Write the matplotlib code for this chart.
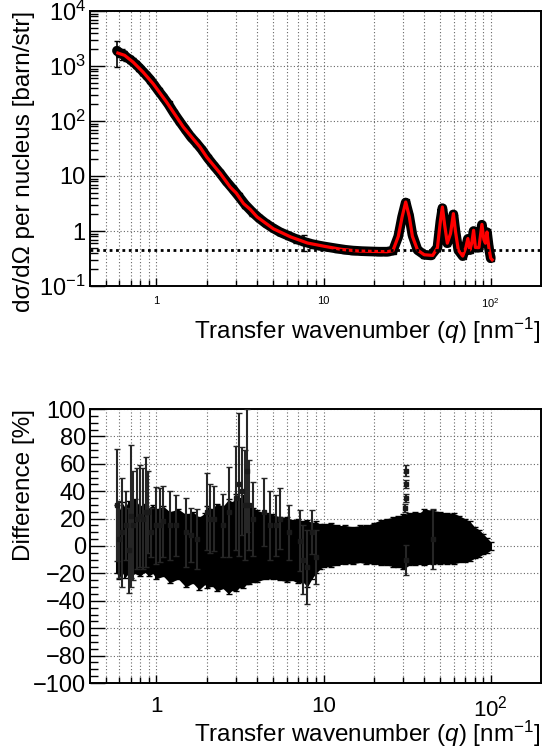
import matplotlib
matplotlib.use('Agg')
import matplotlib.pyplot as plt
from matplotlib.ticker import FixedLocator, FixedFormatter, NullFormatter, MultipleLocator

plt.rcParams['font.family'] = ['Liberation Sans', 'DejaVu Sans']
plt.rcParams['mathtext.fontset'] = 'custom'
plt.rcParams['mathtext.rm'] = 'Liberation Sans'
plt.rcParams['mathtext.it'] = 'Liberation Sans:italic'
plt.rcParams['mathtext.default'] = 'regular'
plt.rcParams['axes.unicode_minus'] = True

# ---------------- data: top panel (measured cross section) ----------------
data_q = [0.58, 0.60, 0.62, 0.64, 0.66, 0.69, 0.72, 0.75, 0.79, 0.83, 0.87, 0.92, 0.97,
          1.03, 1.1, 1.18, 1.27, 1.37, 1.48, 1.6, 1.73, 1.87, 2.02, 2.2, 2.4, 2.6, 2.85,
          3.1, 3.4, 3.75, 4.1, 4.5, 5.0, 5.5, 6.1, 6.8, 7.6, 8.5, 9.5, 10.6, 12, 13.5, 15,
          17, 19, 21.5, 24, 26, 28, 29.5, 31, 32.5, 34, 36.5, 40, 44, 48, 50, 51.4, 53,
          55, 57.5, 59.8, 61.5, 64, 68, 71, 73, 75, 77, 79, 81, 85, 88.6, 91, 93, 95,
          97.5, 100]
data_y = [1900, 1750, 1650, 1600, 1450, 1330, 1200, 1080, 930, 790, 680, 560, 450,
          350, 270, 200, 140, 100, 72, 52, 40, 30, 21.5, 15.5, 11.3, 8.2, 5.9,
          4.3, 3.0, 2.2, 1.72, 1.38, 1.12, 0.95, 0.83, 0.72, 0.64, 0.58, 0.54, 0.51, 0.48,
          0.455, 0.44, 0.43, 0.425, 0.42, 0.42, 0.44, 0.8, 1.8, 3.3, 1.9, 0.85, 0.45,
          0.37, 0.36, 0.5, 1.5, 2.6, 1.3, 0.6, 0.9, 2.0, 1.0, 0.45, 0.35, 0.5, 0.72,
          0.45, 0.6, 1.0, 0.5, 0.5, 1.3, 0.7, 0.6, 0.95, 0.5, 0.32]
data_err = [950, 300, 350, 250, 220, 200, 170, 150, 120, 100, 85, 70, 55,
            40, 30, 22, 16, 11, 8, 6, 4.5, 3.4, 2.4, 1.8, 1.3, 1.0, 0.75,
            0.55, 0.4, 0.3, 0.22, 0.17, 0.13, 0.11, 0.10, 0.12, 0.2, 0.08, 0.06, 0.05,
            0.045, 0.04, 0.04, 0.035, 0.035, 0.035, 0.035, 0.04, 0.07, 0.15, 0.25, 0.15,
            0.07, 0.04, 0.03, 0.03, 0.04, 0.12, 0.2, 0.1, 0.05, 0.07, 0.15, 0.08, 0.04,
            0.03, 0.04, 0.06, 0.04, 0.05, 0.08, 0.04, 0.04, 0.1, 0.06, 0.05, 0.08, 0.04,
            0.03]

# fitted model (red curve)
fit_q = [0.587, 0.644, 0.723, 0.83, 0.954, 1.149, 1.447, 1.82, 2.0, 2.41, 2.76, 3.0,
         3.32, 3.65, 4.0, 5.0, 6.35, 8.0, 10.1, 12.7, 16, 20, 24, 26, 28, 29.5, 31,
         32.6, 34, 36.5, 40, 45, 48, 50, 51.4, 53, 55, 57.5, 59.8, 61.5, 64, 68, 71,
         73, 75, 77, 79, 81, 85, 88.6, 91, 93, 95, 97.5, 100, 102]
fit_y = [1720, 1565, 1183, 778, 478, 221, 77.8, 33.7, 22, 11.1, 6.3, 4.9,
         3.15, 2.45, 1.8, 1.1, 0.78, 0.605, 0.527, 0.465, 0.433, 0.425, 0.42, 0.44,
         0.8, 1.8, 3.37, 1.8, 0.8, 0.45, 0.37, 0.36, 0.5, 1.5, 2.73, 1.3, 0.6, 0.9,
         2.07, 1.0, 0.45, 0.35, 0.5, 0.73, 0.45, 0.6, 1.03, 0.5, 0.5, 1.32, 0.7, 0.6,
         0.96, 0.5, 0.32, 0.3]
baseline_level = 0.446

# ---------------- data: bottom panel (difference, %) ----------------
env_q = [0.58, 0.60, 0.62, 0.65, 0.68, 0.7, 0.74, 0.8, 0.85, 0.9, 0.95, 1.0, 1.1, 1.2,
         1.35, 1.5, 1.65, 1.8, 1.95, 2.0, 2.15, 2.3, 2.5, 2.7, 2.85, 3.0, 3.15, 3.3,
         3.45, 3.6, 3.8, 4.0, 4.5, 5.0, 5.5, 6.0, 6.5, 7.0, 7.5, 8.0, 8.5, 9.0, 9.5,
         10, 11, 12, 13.5, 15, 16.5, 18, 20, 22, 24, 26, 28, 30, 32.5, 35, 37.5, 40,
         45, 50, 55, 60, 65, 70, 75, 80, 85, 90, 95, 100]
env_hi = [30, 26, 32, 28, 33, 30, 34, 29, 31, 28, 30, 27, 29, 25, 27, 23, 25, 21,
          24, 29, 27, 31, 29, 34, 32, 38, 35, 37, 33, 31, 28, 26, 24, 23, 21, 21, 19,
          20, 18, 19, 17, 18, 16, 16, 17, 15, 15, 14, 15, 15, 17, 19, 20, 21, 22, 23,
          24, 25, 24, 27, 26, 25, 24, 24, 22, 20, 18, 14, 12, 9, 6, 3]
env_lo = [-20, -24, -19, -23, -20, -23, -20, -22, -19, -22, -20, -24, -22, -27, -24,
          -30, -27, -32, -28, -31, -29, -33, -31, -35, -32, -33, -30, -31, -28, -28,
          -26, -26, -24, -24, -25, -26, -25, -27, -26, -30, -24, -20, -17, -15, -15,
          -14, -13, -13, -12, -13, -13, -14, -14, -15, -15, -17, -14, -14, -13, -14,
          -13, -13, -13, -13, -12, -12, -11, -9, -8, -6, -5, -3]

spike_q = [0.58, 0.60, 0.625, 0.655, 0.68, 0.707, 0.72, 0.76, 0.80, 0.83, 0.86, 0.89,
           0.93, 1.0, 1.05, 1.1, 1.2, 1.3, 1.5, 1.6, 1.75, 2.0, 2.1, 2.2, 2.5, 2.7,
           3.0, 3.13, 3.25, 3.4, 3.48, 3.6, 3.8, 4.4, 4.8, 5.2, 5.5, 6.2, 7.2, 7.5,
           8.0, 8.5, 9.0, 31, 31, 31, 30.5, 31, 45]
spike_c = [30, 5, 10, 15, -3, 22, 15, 20, 22, 20, 25, 25,
           10, 15, 15, 18, 15, 15, 10, 8, 5, 25, 20, 20, 15, 25,
           35, 45, 40, 30, 55, 30, 20, 25, 15, 15, 20, 10, 4, -10,
           -15, 10, -8, 55, 45, 35, 28, -10, 5]
spike_e = [41, 28, 40, 25, 31, 52, 40, 37, 37, 37, 40, 30,
           18, 28, 27, 26, 25, 22, 25, 20, 22, 28, 25, 24, 23, 33,
           38, 52, 32, 40, 45, 33, 27, 25, 25, 22, 22, 20, 22, 25,
           27, 16, 20, 4, 3, 3, 3, 11, 22]

# ---------------- figure ----------------
W, H = 542, 754
fig = plt.figure(figsize=(W / 100, H / 100), dpi=100)


def rect(l, t, r, b):
    return [l / W, 1 - b / H, (r - l) / W, (b - t) / H]


ax1 = fig.add_axes(rect(90, 11, 541, 286))
ax2 = fig.add_axes(rect(90, 409, 541, 683))

grid_kw = dict(color='#666666', lw=0.8, ls=(0, (1, 2)))
minor_x = [0.5, 0.6, 0.7, 0.8, 0.9, 2, 3, 4, 5, 6, 7, 8, 9,
           20, 30, 40, 50, 60, 70, 80, 90]

for ax in (ax1, ax2):
    ax.set_xscale('log')
    ax.set_xlim(0.4, 200)
    ax.xaxis.set_major_locator(FixedLocator([1, 10, 100]))
    ax.xaxis.set_minor_locator(FixedLocator(minor_x))
    ax.xaxis.set_minor_formatter(NullFormatter())
    ax.grid(True, which='both', axis='x', **grid_kw)
    ax.grid(True, which='major', axis='y', **grid_kw)
    ax.set_axisbelow(True)
    for s in ax.spines.values():
        s.set_linewidth(1.4)
    ax.tick_params(which='both', direction='in', top=False, right=False,
                   width=1.0)
    ax.tick_params(axis='x', which='major', length=6)
    ax.tick_params(axis='x', which='minor', length=4)
    ax.tick_params(axis='y', which='major', length=11)
    ax.tick_params(axis='y', which='minor', length=6)

# ---- top panel ----
ax1.set_yscale('log')
ax1.set_ylim(0.1, 1e4)
ax1.yaxis.set_major_locator(FixedLocator([0.1, 1, 10, 100, 1000, 10000]))
ax1.yaxis.set_major_formatter(FixedFormatter(
    [r'$10^{\mathregular{-1}}$', '1', '10', r'$10^2$', r'$10^3$', r'$10^4$']))
ax1.yaxis.set_minor_locator(FixedLocator(
    [m * 10.0 ** e for e in range(-1, 4) for m in range(2, 10)]))
ax1.yaxis.set_minor_formatter(NullFormatter())
ax1.xaxis.set_major_formatter(FixedFormatter(['1', '10', r'$10^2$']))
ax1.tick_params(axis='x', labelsize=8, pad=7)
ax1.tick_params(axis='y', labelsize=17, pad=3)

ax1.plot(data_q, data_y, color='black', lw=7, zorder=2, solid_joinstyle='round',
         solid_capstyle='round')
ax1.errorbar(data_q, data_y, yerr=data_err, fmt='s', ms=4, color='black',
             ecolor='black', elinewidth=1.2, capsize=2, zorder=3)
ax1.plot(fit_q, fit_y, color='#ff0000', lw=2.3, zorder=4)
ax1.axhline(baseline_level, color='black', lw=2, ls=(0, (1, 1.3)), zorder=5)

fig.text(24 / W, 1 - 11 / H, 'dσ/dΩ per nucleus [barn/str]', rotation=90,
         ha='center', va='top', fontsize=17.5)
fig.text(541 / W, 1 - 331 / H, r'Transfer wavenumber ($\mathit{q}$) [nm$^{\mathregular{-1}}$]',
         ha='right', va='center', fontsize=17.5)

# ---- bottom panel ----
ax2.set_ylim(-100, 100)
ax2.yaxis.set_minor_locator(MultipleLocator(5))
ax2.yaxis.set_major_locator(FixedLocator(list(range(-100, 101, 20))))
ax2.yaxis.set_major_formatter(FixedFormatter(
    [('\u2212' + str(-v)) if v < 0 else str(v) for v in range(-100, 101, 20)]))
ax2.xaxis.set_major_formatter(FixedFormatter(['1', '10', r'$10^2$']))
ax2.tick_params(axis='x', labelsize=16, pad=9)
ax2.tick_params(axis='y', labelsize=17, pad=3)

ax2.fill_between(env_q, env_lo, env_hi, color='black', lw=0, zorder=2)
env_c = [(h + l) / 2 for h, l in zip(env_hi, env_lo)]
env_e = [(h - l) / 2 for h, l in zip(env_hi, env_lo)]
ax2.errorbar(env_q, env_c, yerr=env_e, fmt='none', ecolor='black',
             elinewidth=1.5, capsize=2.5, zorder=3)
ax2.errorbar(spike_q, spike_c, yerr=spike_e, fmt='s', ms=2.5, color='#1a1a1a',
             ecolor='#262626', elinewidth=1.5, capsize=2, zorder=3)

fig.text(24 / W, 1 - 409 / H, 'Difference [%]', rotation=90,
         ha='center', va='top', fontsize=17.5)
fig.text(541 / W, 1 - 734 / H, r'Transfer wavenumber ($\mathit{q}$) [nm$^{\mathregular{-1}}$]',
         ha='right', va='center', fontsize=17.5)

fig.savefig('out.png', dpi=100)
